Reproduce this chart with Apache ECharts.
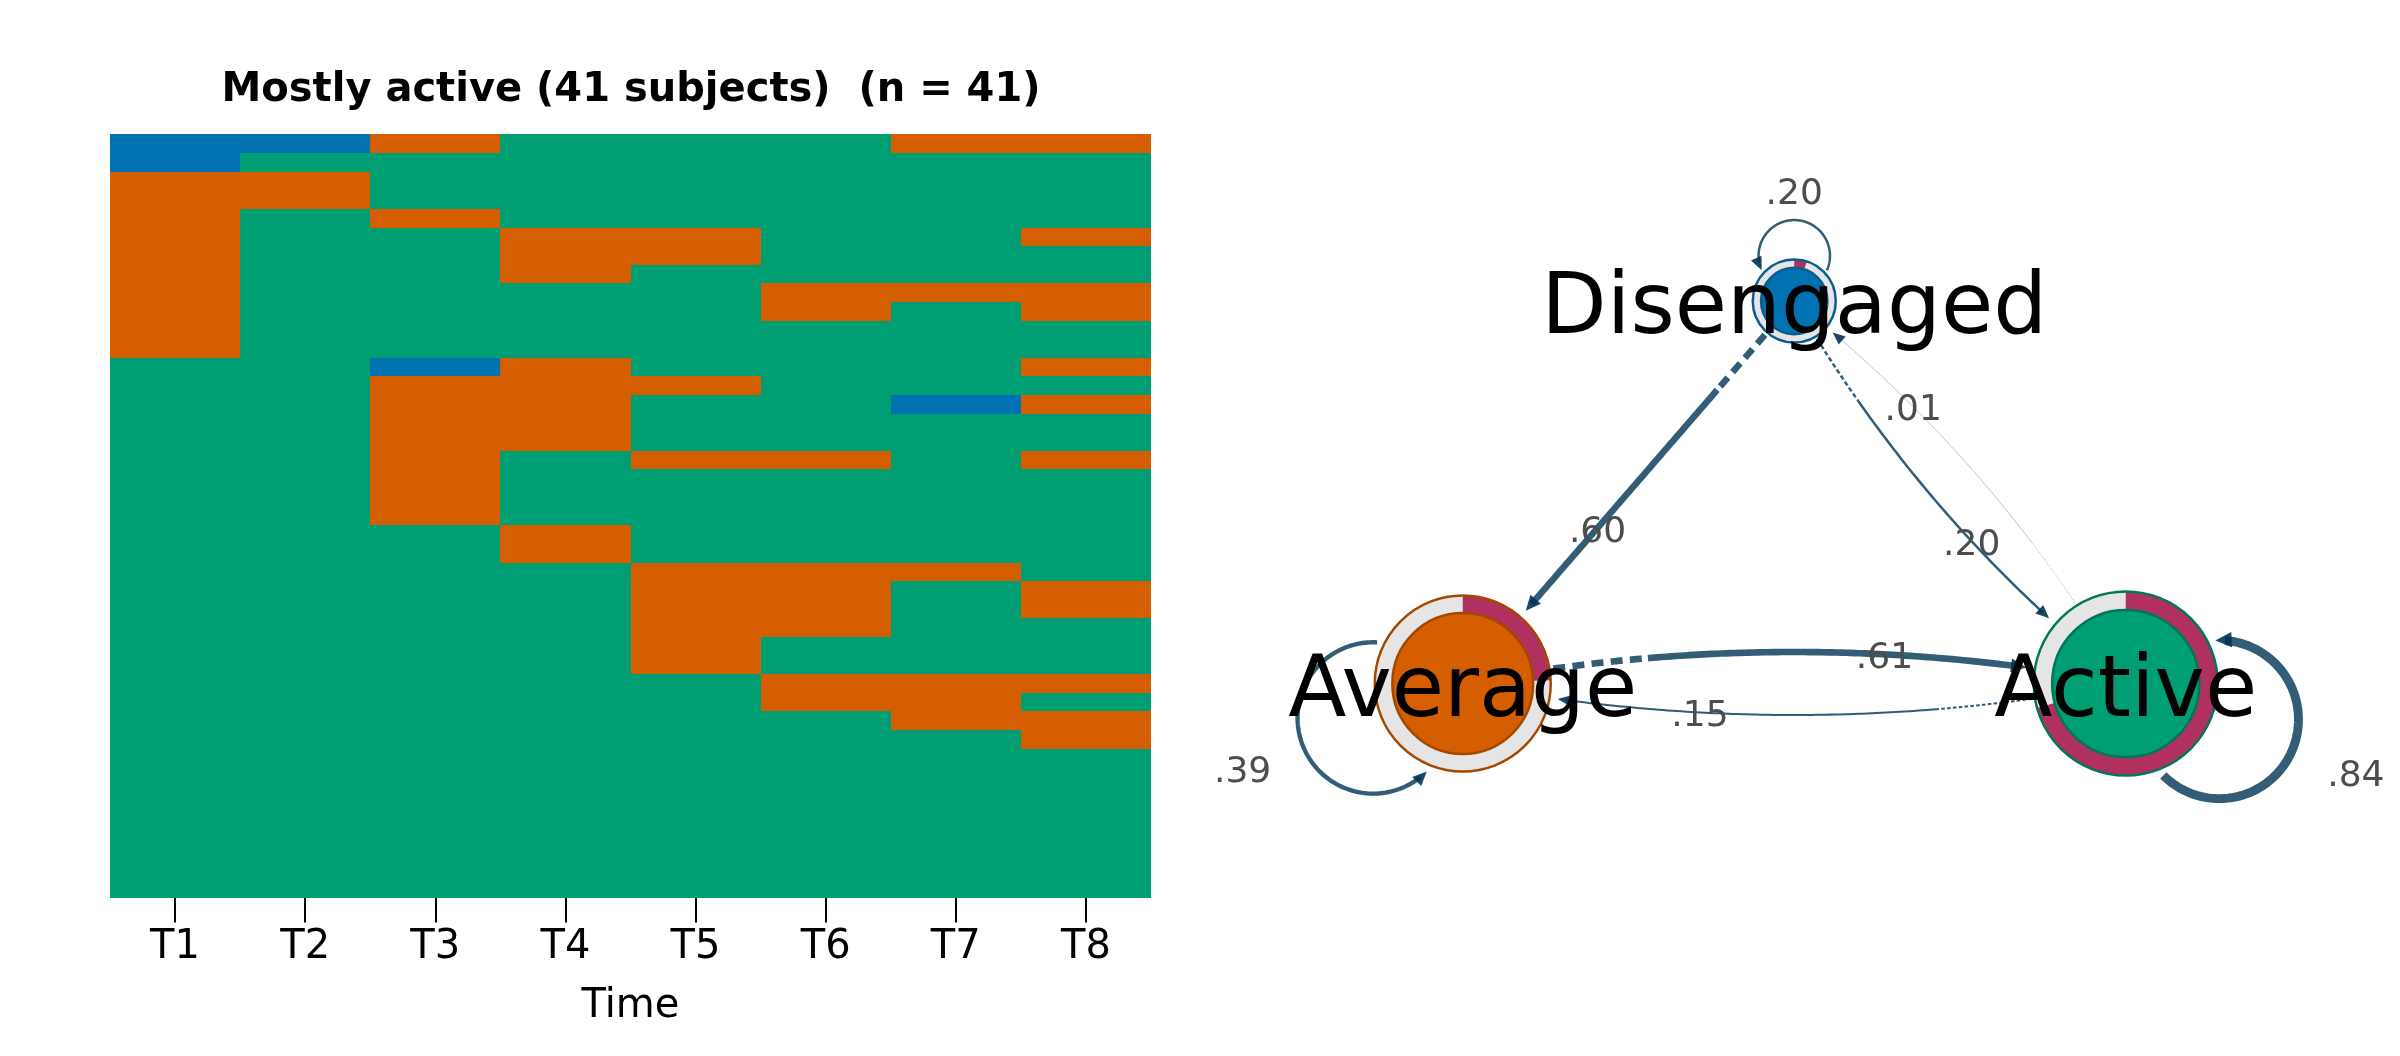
<!DOCTYPE html>
<html>
<head>
<meta charset="utf-8">
<script src="https://cdn.jsdelivr.net/npm/echarts@6/dist/echarts.min.js"></script>
<style>
html,body{margin:0;padding:0;background:#fff;}
#chart{width:2400px;height:1056px;}
</style>
</head>
<body>
<div id="chart"></div>
<script>
// ---------------- data ----------------
const states = ['Active', 'Average', 'Disengaged'];
const stateColors = ['#009E73', '#D55E00', '#0072B2'];
const timeLabels = ['T1', 'T2', 'T3', 'T4', 'T5', 'T6', 'T7', 'T8'];
const clusterName = 'Mostly active';
// one row per subject, columns T1..T8 ; 0 = Active, 1 = Average, 2 = Disengaged
const sequences = [
  [2,2,1,0,0,0,1,1],
  [2,0,0,0,0,0,0,0],
  [1,1,0,0,0,0,0,0],
  [1,1,0,0,0,0,0,0],
  [1,0,1,0,0,0,0,0],
  [1,0,0,1,1,0,0,1],
  [1,0,0,1,1,0,0,0],
  [1,0,0,1,0,0,0,0],
  [1,0,0,0,0,1,1,1],
  [1,0,0,0,0,1,0,1],
  [1,0,0,0,0,0,0,0],
  [1,0,0,0,0,0,0,0],
  [0,0,2,1,0,0,0,1],
  [0,0,1,1,1,0,0,0],
  [0,0,1,1,0,0,2,1],
  [0,0,1,1,0,0,0,0],
  [0,0,1,1,0,0,0,0],
  [0,0,1,0,1,1,0,1],
  [0,0,1,0,0,0,0,0],
  [0,0,1,0,0,0,0,0],
  [0,0,1,0,0,0,0,0],
  [0,0,0,1,0,0,0,0],
  [0,0,0,1,0,0,0,0],
  [0,0,0,0,1,1,1,0],
  [0,0,0,0,1,1,0,1],
  [0,0,0,0,1,1,0,1],
  [0,0,0,0,1,1,0,0],
  [0,0,0,0,1,0,0,0],
  [0,0,0,0,1,0,0,0],
  [0,0,0,0,0,1,1,1],
  [0,0,0,0,0,1,1,0],
  [0,0,0,0,0,0,1,1],
  [0,0,0,0,0,0,0,1],
  [0,0,0,0,0,0,0,0],
  [0,0,0,0,0,0,0,0],
  [0,0,0,0,0,0,0,0],
  [0,0,0,0,0,0,0,0],
  [0,0,0,0,0,0,0,0],
  [0,0,0,0,0,0,0,0],
  [0,0,0,0,0,0,0,0],
  [0,0,0,0,0,0,0,0]
];
// network layout (layout units, like qgraph)
const nodeLayoutX = [1, -1, 0];
const nodeLayoutY = [0, 0, 1];
// curve direction for reciprocal pairs
const pairCurve = {'0-1': -1, '0-2': 1, '1-2': 1};

// ---------------- styles ----------------
const FONT = 'DejaVu Sans';
const nodeRadius = [92, 88, 41.5];
const nodeBorder = ['#00765A', '#A34800', '#0B5D8F'];
const RING_BG = '#E5E5E5';
const PIE_COLOR = '#B03060';
const EDGE_COLOR = '#003355';
const EDGE_LABEL_COLOR = '#4D4D4D';
const NODE_FONT = 85, EDGE_FONT = 36;

// ---------------- derived ----------------
const nSubj = sequences.length;
const nT = timeLabels.length;
const S = states.length;
const counts = states.map(() => new Array(S).fill(0));
sequences.forEach(seq => { for (let t = 0; t < nT - 1; t++) counts[seq[t]][seq[t + 1]]++; });
const transProb = counts.map(row => { const s = row.reduce((a, b) => a + b, 0); return row.map(c => s ? c / s : 0); });
const initProb = states.map((_, k) => sequences.filter(s => s[0] === k).length / nSubj);

const edges = [];
for (let i = 0; i < S; i++) for (let j = 0; j < S; j++) {
  const p = transProb[i][j];
  if (p > 0) {
    let curve = 0;
    if (i !== j && transProb[j][i] > 0) curve = pairCurve[Math.min(i, j) + '-' + Math.max(i, j)];
    edges.push({from: i, to: j, p: p, curve: curve});
  }
}
const fmt = p => p.toFixed(2).replace(/^0/, '');

const heatData = [];
sequences.forEach((seq, r) => seq.forEach((s, t) => heatData.push([t, r, s])));
const rowIds = sequences.map((_, r) => String(r));

// ---------------- geometry helpers ----------------
function pixelNodes(api) { return states.map((_, k) => api.coord([nodeLayoutX[k], nodeLayoutY[k]])); }
function dist(a, b) { return Math.hypot(a[0] - b[0], a[1] - b[1]); }
function arrowPoly(tip, d, al, hw) {
  const base = [tip[0] - d[0] * al, tip[1] - d[1] * al];
  const px = -d[1], py = d[0];
  return [tip, [base[0] + px * hw, base[1] + py * hw], [base[0] - px * hw, base[1] - py * hw]];
}
function edgeGeometry(e, api) {
  const P = pixelNodes(api);
  const w = Math.max(1, 0.5 + 10 * e.p);
  const al = 12 + 0.5 * w, hw = 5 + 0.3 * w;
  const alpha = 0.8 * Math.min(1, 0.3 + 5 * e.p);
  if (e.from === e.to) {
    const c = [0, 1].map(k => (P[0][k] + P[1][k] + P[2][k]) / 3);
    const p0 = P[e.from];
    const dir = Math.atan2(p0[1] - c[1], p0[0] - c[0]);
    const r = nodeRadius[e.from], d = 1.09 * r, rl = 0.86 * r;
    const lc = [p0[0] + d * Math.cos(dir), p0[1] + d * Math.sin(dir)];
    const span = 114 * Math.PI / 180;
    const a0 = dir + span, a1 = dir - span;
    const aEnd = a1 + (al * 0.6) / rl;
    const pts = [];
    for (let k = 0; k <= 120; k++) {
      const a = a0 + (aEnd - a0) * k / 120;
      pts.push([lc[0] + rl * Math.cos(a), lc[1] + rl * Math.sin(a)]);
    }
    const tip = [lc[0] + rl * Math.cos(a1), lc[1] + rl * Math.sin(a1)];
    const tan = [Math.sin(a1), -Math.cos(a1)];
    return {w, alpha, dashPts: null, solidPts: pts, arrow: arrowPoly(tip, tan, al, hw),
      label: [p0[0] + 2.68 * r * Math.cos(dir), p0[1] + 2.68 * r * Math.sin(dir)]};
  }
  const p0 = P[e.from], p2 = P[e.to];
  const dx = p2[0] - p0[0], dy = p2[1] - p0[1], L = Math.hypot(dx, dy);
  const nx = -dy / L, ny = dx / L;
  const h = e.curve * 0.095 * L;
  const c = [(p0[0] + p2[0]) / 2 + nx * h, (p0[1] + p2[1]) / 2 + ny * h];
  const B = t => { const u = 1 - t; return [u * u * p0[0] + 2 * u * t * c[0] + t * t * p2[0], u * u * p0[1] + 2 * u * t * c[1] + t * t * p2[1]]; };
  const N = 600;
  const rs = nodeRadius[e.from] + 3, re = nodeRadius[e.to] + 8;
  let ts = 0, te = 1;
  for (let k = 0; k <= N; k++) { if (dist(B(k / N), p0) >= rs) { ts = k / N; break; } }
  for (let k = N; k >= 0; k--) { if (dist(B(k / N), p2) >= re) { te = k / N; break; } }
  const tip = B(te);
  let der = [2 * (1 - te) * (c[0] - p0[0]) + 2 * te * (p2[0] - c[0]), 2 * (1 - te) * (c[1] - p0[1]) + 2 * te * (p2[1] - c[1])];
  const dl = Math.hypot(der[0], der[1]); der = [der[0] / dl, der[1] / dl];
  let tl = te;
  while (tl > ts && dist(B(tl), tip) < al * 0.6) tl -= 1 / N;
  const tm = ts + 0.2 * (te - ts);
  const seg = (a, b) => { const out = []; for (let k = 0; k <= 80; k++) out.push(B(a + (b - a) * k / 80)); return out; };
  return {w, alpha, dashPts: seg(ts, tm), solidPts: seg(tm, tl), arrow: arrowPoly(tip, der, al, hw),
    label: B(ts + 0.7 * (te - ts))};
}

// ---------------- chart ----------------
const chart = echarts.init(document.getElementById('chart'), null, {renderer: 'canvas'});
const option = {
  backgroundColor: '#ffffff',
  animation: false,
  title: {
    text: clusterName + ' (' + nSubj + ' subjects)  (n = ' + nSubj + ')',
    left: 631, top: 71, textAlign: 'center', padding: 0,
    textStyle: {fontFamily: FONT, fontSize: 40, fontWeight: 'bold', color: '#000'}
  },
  grid: [
    {left: 110, width: 1041, top: 134.5, height: 763},
    {left: 1297, width: 994.5, top: 109.75, height: 765}
  ],
  xAxis: [
    {
      type: 'category', gridIndex: 0, data: timeLabels,
      axisLine: {show: false},
      axisTick: {show: true, alignWithLabel: true, length: 25, lineStyle: {color: '#000', width: 2}},
      axisLabel: {margin: 30, fontSize: 40, fontFamily: FONT, color: '#000'},
      splitLine: {show: false},
      name: 'Time', nameLocation: 'middle', nameGap: 89,
      nameTextStyle: {fontSize: 40, fontFamily: FONT, color: '#000'}
    },
    {type: 'value', gridIndex: 1, min: -1.5, max: 1.5, show: false}
  ],
  yAxis: [
    {type: 'category', gridIndex: 0, data: rowIds, inverse: true, show: false},
    {type: 'value', gridIndex: 1, min: -0.5, max: 1.5, show: false}
  ],
  series: [
    {
      // sequence index plot: one cell per subject and time point
      type: 'custom', xAxisIndex: 0, yAxisIndex: 0, clip: false, z: 1,
      data: heatData,
      renderItem: function (params, api) {
        const p = api.coord([api.value(0), api.value(1)]);
        const sz = api.size([1, 1]);
        const s = api.value(2);
        const x0 = Math.round(p[0] - sz[0] / 2), x1 = Math.round(p[0] + sz[0] / 2);
        const y0 = Math.round(p[1] - sz[1] / 2), y1 = Math.round(p[1] + sz[1] / 2);
        return {type: 'rect',
          shape: {x: x0, y: y0, width: x1 - x0, height: y1 - y0},
          style: {fill: stateColors[s], stroke: null}};
      }
    },
    {
      type: 'custom', xAxisIndex: 1, yAxisIndex: 1, clip: false, z: 2,
      data: edges.map(e => [nodeLayoutX[e.from], nodeLayoutY[e.from]]),
      renderItem: function (params, api) {
        const e = edges[params.dataIndex];
        const g = edgeGeometry(e, api);
        const st = {stroke: EDGE_COLOR, lineWidth: g.w, fill: 'none', opacity: g.alpha};
        const children = [];
        if (g.dashPts) children.push({type: 'polyline', shape: {points: g.dashPts}, style: Object.assign({}, st, {lineDash: [1.8 * g.w, 1.1 * g.w]})});
        children.push({type: 'polyline', shape: {points: g.solidPts}, style: st});
        children.push({type: 'polygon', shape: {points: g.arrow}, style: {fill: EDGE_COLOR, opacity: 0.9}});
        return {type: 'group', children: children};
      }
    },
    {
      type: 'custom', xAxisIndex: 1, yAxisIndex: 1, clip: false, z: 3,
      data: states.map((_, k) => [nodeLayoutX[k], nodeLayoutY[k]]),
      renderItem: function (params, api) {
        const k = params.dataIndex;
        const p = api.coord([nodeLayoutX[k], nodeLayoutY[k]]);
        const R = nodeRadius[k], Ri = 0.8 * R;
        const a0 = -Math.PI / 2;
        return {type: 'group', children: [
          {type: 'ring', shape: {cx: p[0], cy: p[1], r: R, r0: Ri}, style: {fill: RING_BG}},
          {type: 'sector', shape: {cx: p[0], cy: p[1], r: R, r0: Ri, startAngle: a0, endAngle: a0 + 2 * Math.PI * initProb[k], clockwise: true}, style: {fill: PIE_COLOR}},
          {type: 'circle', shape: {cx: p[0], cy: p[1], r: R}, style: {fill: 'none', stroke: nodeBorder[k], lineWidth: 2.5}},
          {type: 'circle', shape: {cx: p[0], cy: p[1], r: Ri}, style: {fill: stateColors[k], stroke: nodeBorder[k], lineWidth: 2.5}}
        ]};
      }
    },
    {
      type: 'custom', xAxisIndex: 1, yAxisIndex: 1, clip: false, z: 4,
      data: states.map((_, k) => [nodeLayoutX[k], nodeLayoutY[k]]).concat(edges.map(e => [nodeLayoutX[e.from], nodeLayoutY[e.from]])),
      renderItem: function (params, api) {
        const idx = params.dataIndex;
        if (idx < S) {
          const p = api.coord([nodeLayoutX[idx], nodeLayoutY[idx]]);
          return {type: 'text', style: {text: states[idx], x: p[0], y: p[1] + 0.122 * NODE_FONT, fill: '#000', fontSize: NODE_FONT, fontFamily: FONT, align: 'center', verticalAlign: 'middle'}};
        }
        const e = edges[idx - S];
        const g = edgeGeometry(e, api);
        return {type: 'text', style: {text: fmt(e.p), x: g.label[0], y: g.label[1] + 0.122 * EDGE_FONT, fill: EDGE_LABEL_COLOR, fontSize: EDGE_FONT, fontFamily: FONT, align: 'center', verticalAlign: 'middle'}};
      }
    }
  ]
};
chart.setOption(option);
</script>
</body>
</html>
